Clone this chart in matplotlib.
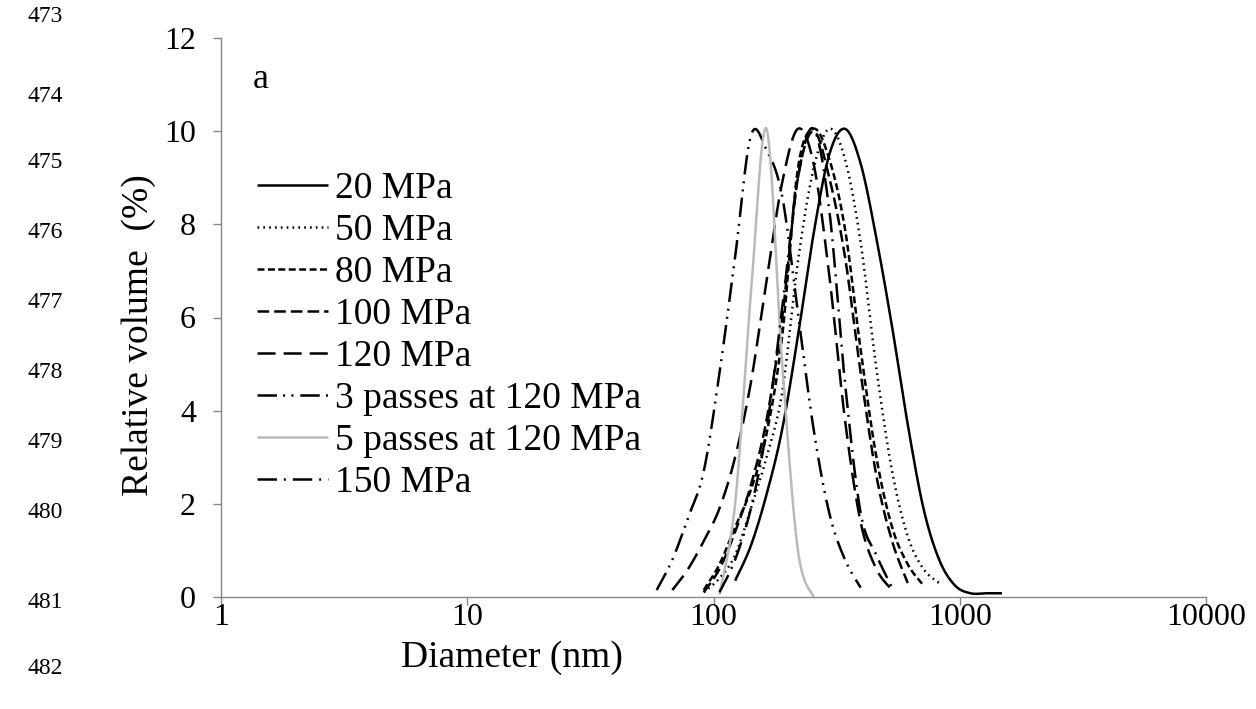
import numpy as np
import matplotlib
matplotlib.use("Agg")
import matplotlib.pyplot as plt

plt.rcParams['font.family'] = ['Liberation Serif', 'DejaVu Serif']
plt.rcParams['lines.scale_dashes'] = False

# size classes (nm) of the particle sizer
bins = [58.77, 68.06, 78.82, 91.28, 105.7, 122.4, 141.8, 164.2, 190.1, 220.2, 255.0,
        295.3, 342.0, 396.1, 458.7, 531.2, 615.1, 712.4, 825.0, 955.4, 1106, 1281, 1484]

# relative volume (%), each list starts at the given bin index
mpa20 = [0.35, 1.1, 2.2, 3.6, 5.6, 7.8, 9.5, 10.05, 9.3, 7.7, 5.8, 3.7, 1.9, 0.8, 0.25, 0.08, 0.08, 0.08]
mpa50 = [0.1, 0.4, 0.9, 1.9, 3.0, 4.4, 7.2, 9.2, 10.05, 9.4, 7.6, 4.9, 2.7, 1.3, 0.6, 0.3]
mpa80 = [0.15, 0.7, 1.5, 2.3, 3.5, 5.6, 9.2, 10.05, 9.4, 7.9, 5.3, 3.0, 1.5, 0.7, 0.25]
mpa100 = [0.1, 0.6, 1.4, 2.4, 3.8, 6.0, 9.0, 10.0, 9.0, 7.3, 4.8, 2.6, 1.2, 0.3]
mpa120 = [0.15, 0.6, 1.2, 1.9, 3.0, 4.6, 6.8, 8.9, 10.05, 9.3, 6.9, 3.8, 1.6, 0.6, 0.15]
pass3 = [0.15, 0.8, 1.7, 2.7, 4.8, 7.3, 9.9, 9.6, 8.6, 6.1, 3.6, 1.8, 0.8, 0.2]
pass5 = [0.05, 2.0, 6.5, 10.05, 5.0, 1.0, 0.0]
mpa150 = [0.1, 0.8, 1.9, 3.6, 6.2, 9.0, 10.05, 8.3, 4.6, 1.8, 0.9, 0.2]

labels = ['20 MPa', '50 MPa', '80 MPa', '100 MPa', '120 MPa',
          '3 passes at 120 MPa', '5 passes at 120 MPa', '150 MPa']
series = [mpa20, mpa50, mpa80, mpa100, mpa120, pass3, pass5, mpa150]
starts = [5, 3, 3, 3, 1, 0, 4, 4]

styles = [
    dict(color='black', ls='-'),
    dict(color='black', ls=(0, (1.2, 3.0))),
    dict(color='black', ls=(0, (5, 2.5))),
    dict(color='black', ls=(0, (8.4, 3.6))),
    dict(color='black', ls=(0, (13, 5.8))),
    dict(color='black', ls=(0, (14, 4.5, 1.4, 4.5, 1.4, 5))),
    dict(color='#bababa', ls='-'),
    dict(color='black', ls=(0, (14, 5, 1.4, 5))),
]


def smooth(xs, ys, n=24):
    # Excel style smoothed line (Catmull-Rom through the points, in log-x space)
    P = np.column_stack([np.log10(xs), ys])
    P = np.vstack([P[0], P, P[-1]])
    t = np.linspace(0, 1, n, endpoint=False)[:, None]
    out = []
    for i in range(1, len(P) - 2):
        p0, p1, p2, p3 = P[i - 1], P[i], P[i + 1], P[i + 2]
        out.append(0.5 * (2 * p1 + (p2 - p0) * t + (2 * p0 - 5 * p1 + 4 * p2 - p3) * t ** 2
                          + (3 * p1 - p0 - 3 * p2 + p3) * t ** 3))
    out.append(P[-2][None, :])
    out = np.vstack(out)
    return 10 ** out[:, 0], out[:, 1]


fig = plt.figure(figsize=(12.56, 7.09), dpi=100)
ax = fig.add_axes([221 / 1256, 1 - 597 / 709, 985 / 1256, 559 / 709])

for vals, s, lab, st in zip(series, starts, labels, styles):
    x = bins[s:s + len(vals)]
    sx, sy = smooth(x, vals)
    ax.plot(sx, sy, color=st['color'], linestyle=st['ls'], lw=1.8, label=lab,
            solid_capstyle='butt', dash_capstyle='butt')

ax.set_xscale('log')
ax.set_xlim(1, 10000)
ax.set_ylim(0, 12)
ax.set_yticks(range(0, 13, 2))
ax.set_xticks([1, 10, 100, 1000, 10000])
ax.set_xticklabels(['1', '10', '100', '1000', '10000'])
ax.minorticks_off()

for side in ['top', 'right']:
    ax.spines[side].set_visible(False)
for side in ['left', 'bottom']:
    ax.spines[side].set_color('#868686')
    ax.spines[side].set_linewidth(1.0)
ax.tick_params(axis='both', direction='out', length=6, width=1.0, color='#868686',
               labelsize=23)
ax.tick_params(axis='y', pad=12)
ax.tick_params(axis='x', pad=-2)

ax.set_xlabel('Diameter (nm)', fontsize=27)
ax.set_ylabel('Relative volume  (%)', fontsize=27)
ax.xaxis.set_label_coords((512 - 221) / 985, -0.077)
ax.yaxis.set_label_coords(-0.066, (597 - 335) / 559)

ax.text(253 / 1256, 1 - 80 / 709, 'a', transform=fig.transFigure, fontsize=26,
        va='center', ha='left')

ax.legend(loc='upper left', bbox_to_anchor=(257 / 1256, 1 - 172 / 709),
          bbox_transform=fig.transFigure, frameon=False, fontsize=27,
          handlelength=1.9, handletextpad=0.17, labelspacing=0.2,
          borderpad=0, borderaxespad=0)

# manuscript line numbers down the left margin
line_nums = ['473', '474', '475', '476', '477', '478', '479', '480', '481', '482']
line_ys = [17, 96, 163, 233, 303, 372, 442, 512, 603, 668]
for num, yy in zip(line_nums, line_ys):
    fig.text(27 / 1256, 1 - yy / 709, num, fontsize=17, va='center', ha='left')

fig.savefig('out.png', dpi=100)
